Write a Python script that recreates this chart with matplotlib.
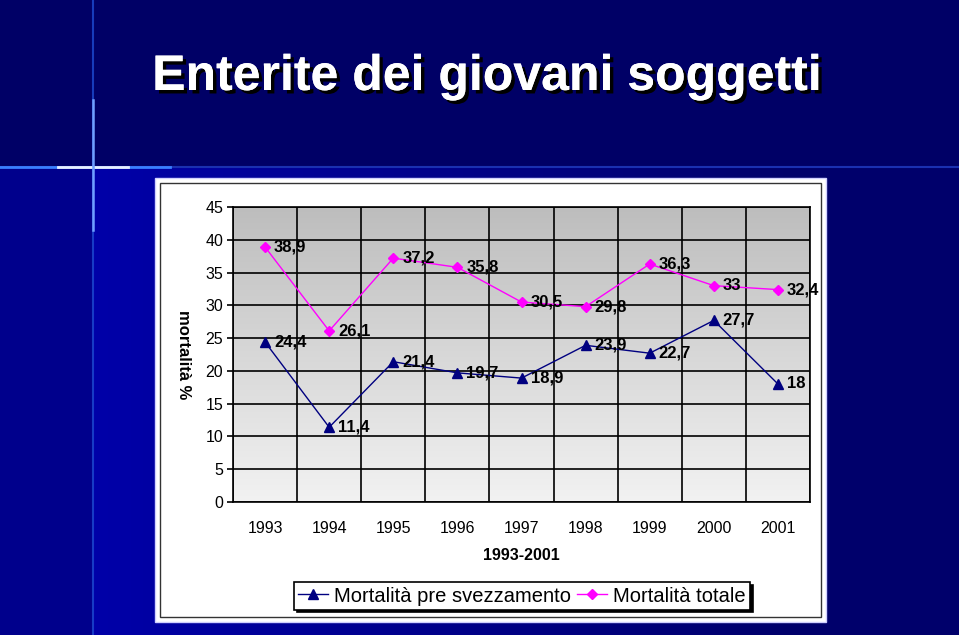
import numpy as np
import matplotlib
matplotlib.use("Agg")
import matplotlib.pyplot as plt
import matplotlib.patheffects as pe
from matplotlib.patches import Rectangle
from matplotlib.colors import LinearSegmentedColormap

plt.rcParams['font.family'] = ['Liberation Sans', 'DejaVu Sans']

# === DATI ===
anni = ['1993', '1994', '1995', '1996', '1997', '1998', '1999', '2000', '2001']
pre_svezzamento = [24.4, 11.4, 21.4, 19.7, 18.9, 23.9, 22.7, 27.7, 18.0]
totale = [38.9, 26.1, 37.2, 35.8, 30.5, 29.8, 36.3, 33.0, 32.4]
serie_nomi = ['Mortalità pre svezzamento', 'Mortalità totale']

W, H = 959, 635


def fx(x):
    return x / W


def fy(y):
    return 1 - y / H


fig = plt.figure(figsize=(W / 100, H / 100), dpi=100)

# --- sfondo slide (blu) ---
bg = fig.add_axes([0, 0, 1, 1])
bg.set_axis_off()
img = np.zeros((H, W, 3))
img[:, :] = [0.0, 0.0, 0.40]
xs = np.arange(W)
# zona inferiore più chiara, sfuma verso destra
grad = np.clip(1 - (xs - 93) / 700, 0, 1)
low = np.zeros((W, 3))
low[:, 2] = 0.42 + 0.24 * grad
low[:93, 2] = 0.55
img[168:, :] = low[None, :, :]
bg.imshow(img, extent=[0, W, H, 0], aspect='auto', zorder=0)
bg.set_xlim(0, W)
bg.set_ylim(H, 0)
bg.plot([0, W], [167, 167], color='#1a30b0', lw=1.5, zorder=1)
bg.plot([0, 170], [167, 167], color='#3a7fff', lw=2, zorder=2)
bg.plot([58, 128], [167, 167], color='#e8f0ff', lw=2, zorder=3)
bg.plot([93, 93], [0, 635], color='#1e4ad0', lw=1.5, zorder=2, alpha=0.8)
bg.plot([93, 93], [100, 230], color='#6fa0ff', lw=1.8, zorder=3)

# riquadro bianco del grafico
bg.add_patch(Rectangle((155, 178), 671, 444, facecolor='white',
                       edgecolor='#d0d0ff', lw=1, zorder=4))
bg.add_patch(Rectangle((160, 183), 661, 434, facecolor='none',
                       edgecolor='#333333', lw=1, zorder=5))

# titolo
fig.text(fx(487), fy(77), 'Enterite dei giovani soggetti', color='white',
         fontsize=36, fontweight='bold', ha='center', va='center',
         path_effects=[pe.withSimplePatchShadow(offset=(2.5, -2.5), shadow_rgbFace='black', alpha=1.0),
                       pe.Normal()])

# --- grafico ---
ax = fig.add_axes([fx(233), fy(502), fx(810 - 233), (502 - 207) / H])
x = np.arange(len(anni))

cmap = LinearSegmentedColormap.from_list('grigio', ['#f2f2f2', '#bdbdbd'])
ax.imshow(np.linspace(0, 1, 256)[:, None], extent=[-0.5, len(anni) - 0.5, 0, 45],
          origin='lower', aspect='auto', cmap=cmap, zorder=0)

ax.set_xlim(-0.5, len(anni) - 0.5)
ax.set_ylim(0, 45)
ax.set_yticks(np.arange(0, 46, 5))
ax.set_xticks(x)
ax.set_xticklabels(anni)
ax.set_xticks(np.arange(-0.5, len(anni), 1), minor=True)
ax.grid(True, axis='y', which='major', color='black', lw=1.2, zorder=1)
ax.grid(True, axis='x', which='minor', color='black', lw=1.2, zorder=1)
ax.tick_params(axis='x', which='both', length=0, pad=14, labelsize=11.5)
ax.tick_params(axis='y', length=4, width=1.2, pad=3, labelsize=11.5)
for s in ax.spines.values():
    s.set_linewidth(1.2)

l1, = ax.plot(x, pre_svezzamento, color='#000080', lw=1, marker='^', ms=7,
              markerfacecolor='#000080', markeredgecolor='#000080', zorder=3)
l2, = ax.plot(x, totale, color='#ff00ff', lw=1, marker='D', ms=5,
              markerfacecolor='#ff00ff', markeredgecolor='#ff00ff', zorder=3)

for serie in (pre_svezzamento, totale):
    for xi, v in zip(x, serie):
        ax.annotate(f'{v:g}'.replace('.', ','), (xi, v), xytext=(6.5, 0),
                    textcoords='offset points', va='center', ha='left',
                    fontsize=12, fontweight='bold', zorder=4, annotation_clip=False)

ax.set_ylabel('mortalità %', rotation=270, fontsize=12, fontweight='bold', labelpad=14)
ax.yaxis.set_label_coords((176 - 233) / (810 - 233), 0.5)
ax.set_xlabel('1993-2001', fontsize=11.5, fontweight='bold', labelpad=8)

leg = fig.legend([l1, l2], serie_nomi, loc='center', ncol=2,
                 bbox_to_anchor=(fx(522), fy(596)), fontsize=14.5,
                 frameon=True, fancybox=False, edgecolor='black', framealpha=1,
                 shadow={'color': 'black', 'alpha': 1}, handlelength=1.5,
                 borderpad=0.2, columnspacing=0.3, handletextpad=0.3,
                 borderaxespad=0)
leg.get_frame().set_linewidth(1.2)

fig.savefig('out.png', dpi=100)
